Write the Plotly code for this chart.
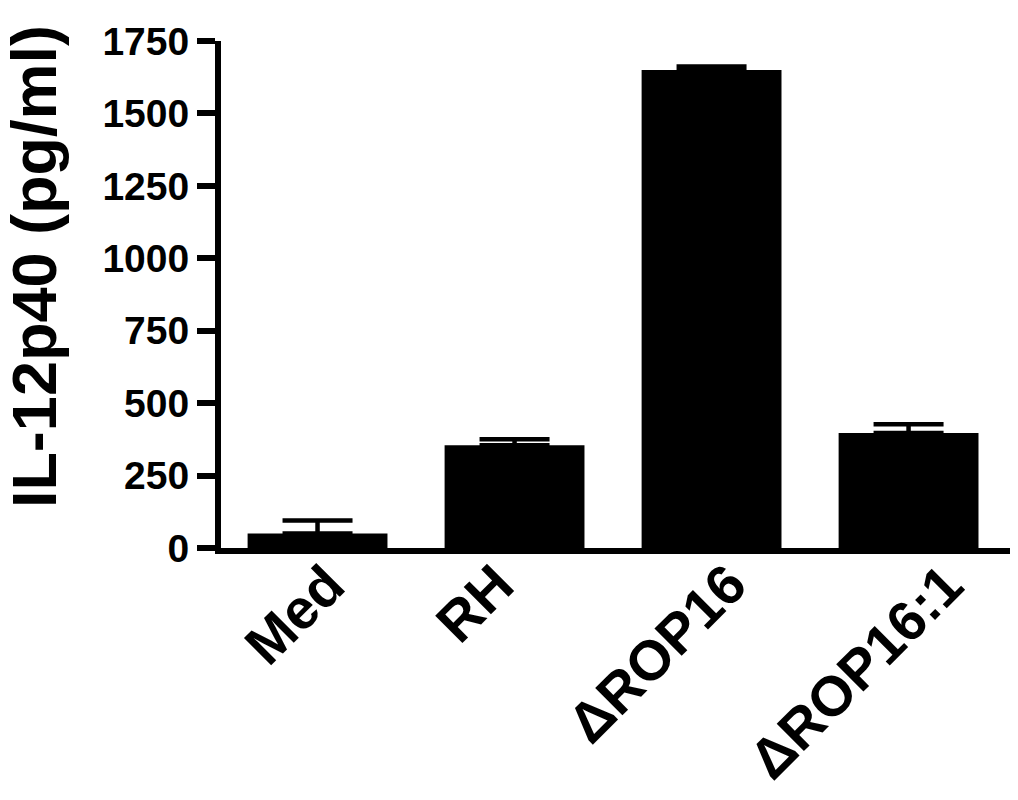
import plotly.graph_objects as go

# Data
groups = ["Med", "RH", "ΔROP16", "ΔROP16:1"]
il12p40 = [50, 355, 1650, 397]
il12p40_err = [45, 20, 12, 30]

y_ticks = [0, 250, 500, 750, 1000, 1250, 1500, 1750]

# horizontal nudges (px) of the slanted group labels, like the original layout
label_dx = [40, 12, 48, 68]

FONT = "Arial, Liberation Sans, sans-serif"

fig = go.Figure(
    go.Bar(
        x=groups,
        y=il12p40,
        width=0.71,
        marker=dict(color="black", line=dict(width=0)),
        error_y=dict(
            type="data",
            array=il12p40_err,
            arrayminus=[0] * len(il12p40_err),
            symmetric=False,
            color="black",
            thickness=4.5,
            width=35,
        ),
    )
)

# slanted group labels, top-right end hung under each bar
labels = []
for name, dx in zip(groups, label_dx):
    labels.append(dict(
        text=name,
        x=name,
        xref="x",
        y=0,
        yref="paper",
        xanchor="right",
        yanchor="top",
        xshift=dx,
        yshift=-3,
        textangle=-45,
        borderpad=0,
        showarrow=False,
        font=dict(size=56, family=FONT, weight="bold", color="black"),
    ))

# y axis title
labels.append(dict(
    text="IL-12p40 (pg/ml)",
    xref="paper",
    yref="paper",
    x=0,
    y=0.554,
    xshift=-187,
    xanchor="center",
    yanchor="middle",
    textangle=-90,
    borderpad=0,
    showarrow=False,
    font=dict(size=63, family=FONT, weight="bold", color="black"),
))

fig.update_layout(
    width=1018,
    height=800,
    margin=dict(l=213, r=15, t=27, b=260),
    paper_bgcolor="white",
    plot_bgcolor="white",
    showlegend=False,
    font=dict(family=FONT, color="black"),
    xaxis=dict(
        range=[-0.49, 3.52],
        showline=True,
        linecolor="black",
        linewidth=6,
        showgrid=False,
        zeroline=False,
        ticks="",
        showticklabels=False,
    ),
    yaxis=dict(
        range=[0, 1750],
        tickvals=y_ticks,
        ticktext=[str(v) for v in y_ticks],
        showline=True,
        linecolor="black",
        linewidth=6,
        showgrid=False,
        zeroline=False,
        ticks="outside",
        ticklen=18,
        tickwidth=6,
        tickcolor="black",
        ticklabeloverflow="allow",
        tickfont=dict(size=39, family=FONT, weight="bold"),
    ),
    annotations=labels,
)

fig.write_html("out.html")
